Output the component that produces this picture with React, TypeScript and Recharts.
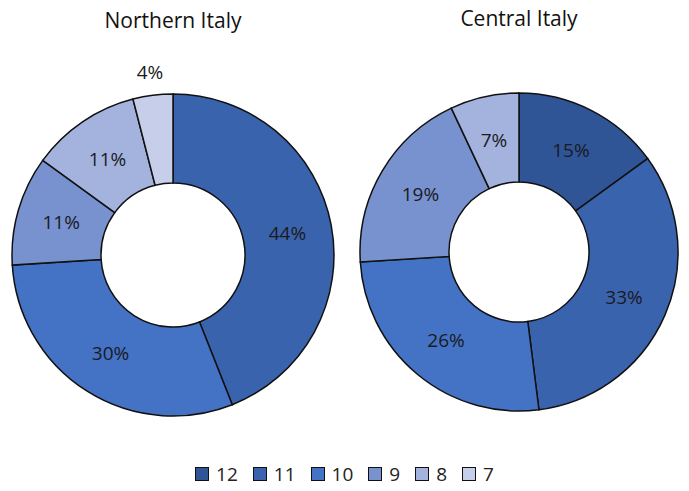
import React from 'react'
import { PieChart, Pie, Cell, Legend } from 'recharts'

// grade categories, same order in both rings (clockwise from 12 o'clock)
const categories = ['12', '11', '10', '9', '8', '7']
const northernValues = [0, 44, 30, 11, 11, 4]
const centralValues = [15, 33, 26, 19, 7, 0]
const regionTitles = ['Northern Italy', 'Central Italy']

const COLORS = ['#2F5597', '#3A63AD', '#4472C4', '#7891CF', '#A4B3DD', '#C6CEEA']
const FONT = '"Open Sans", "Noto Sans", sans-serif'
const RAD = Math.PI / 180

const toRows = (values: number[]) =>
  categories
    .map((name, i) => ({ name, value: values[i], color: COLORS[i] }))
    .filter((d) => d.value > 0)

const northernData = toRows(northernValues)
const centralData = toRows(centralValues)

const renderLabel = (props: any) => {
  const { cx, cy, midAngle, innerRadius, outerRadius, value } = props
  // small slices get their label outside the ring
  const r = value < 5 ? outerRadius + 23 : (innerRadius + outerRadius) / 2
  const x = cx + r * Math.cos(-midAngle * RAD)
  const y = cy + r * Math.sin(-midAngle * RAD)
  return (
    <text
      x={x}
      y={y}
      fill="#1a1a22"
      textAnchor="middle"
      dominantBaseline="central"
      fontSize={19}
      fontFamily={FONT}
    >
      {`${value}%`}
    </text>
  )
}

const LegendContent = () => (
  <div style={{ display: 'flex', justifyContent: 'center', gap: 15, fontFamily: FONT, fontSize: 19, color: '#222' }}>
    {categories.map((c, i) => (
      <div key={c} style={{ display: 'flex', alignItems: 'center', gap: 7 }}>
        <span
          style={{
            width: 12,
            height: 12,
            background: COLORS[i],
            border: '1px solid #111',
            display: 'inline-block',
          }}
        />
        <span>{c}</span>
      </div>
    ))}
  </div>
)

const titleStyle: React.CSSProperties = {
  position: 'absolute',
  width: 240,
  textAlign: 'center',
  fontFamily: FONT,
  fontSize: 21,
  color: '#111',
}

export default function App() {
  return (
    <div style={{ position: 'absolute', left: 0, top: 0, width: 689, height: 491, background: '#fff' }}>
      <div style={{ ...titleStyle, left: 53, top: 6 }}>{regionTitles[0]}</div>
      <div style={{ ...titleStyle, left: 399, top: 4 }}>{regionTitles[1]}</div>
      <PieChart width={689} height={491} margin={{ top: 0, right: 0, bottom: 0, left: 0 }}>
        <Pie
          data={northernData}
          dataKey="value"
          nameKey="name"
          cx={173}
          cy={255}
          innerRadius={72}
          outerRadius={161}
          startAngle={90}
          endAngle={-270}
          stroke="#111"
          strokeWidth={1.5}
          label={renderLabel}
          labelLine={false}
          isAnimationActive={false}
        >
          {northernData.map((d) => (
            <Cell key={d.name} fill={d.color} />
          ))}
        </Pie>
        <Pie
          data={centralData}
          dataKey="value"
          nameKey="name"
          cx={519}
          cy={252}
          innerRadius={70}
          outerRadius={159}
          startAngle={90}
          endAngle={-270}
          stroke="#111"
          strokeWidth={1.5}
          label={renderLabel}
          labelLine={false}
          isAnimationActive={false}
        >
          {centralData.map((d) => (
            <Cell key={d.name} fill={d.color} />
          ))}
        </Pie>
        <Legend
          verticalAlign="bottom"
          align="center"
          content={LegendContent}
          wrapperStyle={{ bottom: 4 }}
        />
      </PieChart>
    </div>
  )
}
